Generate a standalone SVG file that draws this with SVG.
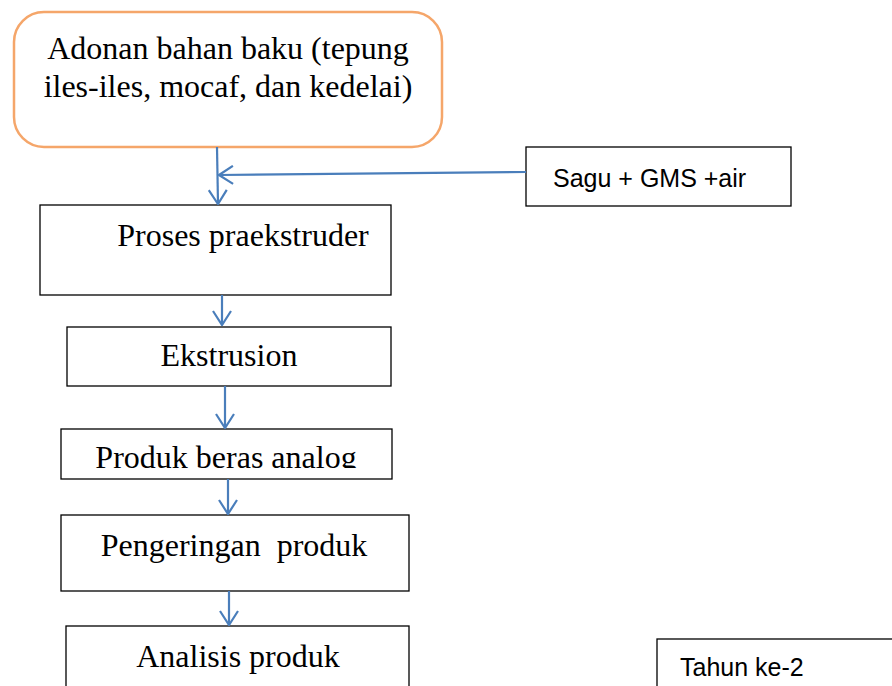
<svg xmlns="http://www.w3.org/2000/svg" width="892" height="686" viewBox="0 0 892 686">
<style>
.box{fill:#fff;stroke:#000;stroke-width:1.3}
.tr{font-family:"Liberation Serif","Times New Roman",serif;fill:#000;text-anchor:middle}
.sa{font-family:"Liberation Sans",Arial,sans-serif;fill:#000}
.con{stroke:#4A7EBB;stroke-width:2.2;fill:none}
</style>
<defs>
<marker id="ah" viewBox="0 0 16 20" refX="15" refY="10" markerWidth="16" markerHeight="20" markerUnits="userSpaceOnUse" orient="auto">
<path d="M1,1 L15,10 L1,19" fill="none" stroke="#4A7EBB" stroke-width="2.2"/>
</marker>
<clipPath id="c4"><rect x="61" y="429" width="331" height="39"/></clipPath>
</defs>
<rect width="892" height="686" fill="#fff"/>
<g id="n1">
<rect x="14" y="12" width="428" height="135" rx="30" ry="30" fill="#fff" stroke="#F5A66A" stroke-width="2.5"/>
<text class="tr" x="228" y="59" font-size="32">Adonan bahan baku (tepung</text>
<text class="tr" x="228" y="97" font-size="32">iles-iles, mocaf, dan kedelai)</text>
</g>
<g id="n_sagu">
<rect class="box" x="526" y="147" width="265" height="59"/>
<text class="sa" x="553" y="187" font-size="25">Sagu + GMS +air</text>
</g>
<g id="n2">
<rect class="box" x="40" y="205" width="351" height="90"/>
<text class="tr" x="243" y="246" font-size="32">Proses praekstruder</text>
</g>
<g id="n3">
<rect class="box" x="67" y="327" width="324" height="59"/>
<text class="tr" x="229" y="366" font-size="32">Ekstrusion</text>
</g>
<g id="n4">
<rect class="box" x="61" y="429" width="331" height="50"/>
<text class="tr" x="226" y="468" font-size="32" clip-path="url(#c4)">Produk beras analog</text>
</g>
<g id="n5">
<rect class="box" x="61" y="515" width="348" height="76"/>
<text class="tr" x="234" y="556" font-size="32" xml:space="preserve">Pengeringan  produk</text>
</g>
<g id="n6">
<rect class="box" x="66" y="626" width="343" height="70"/>
<text class="tr" x="238" y="667" font-size="32">Analisis produk</text>
</g>
<g id="n_tahun">
<rect class="box" x="657" y="639" width="250" height="60"/>
<text class="sa" x="680" y="676" font-size="25">Tahun ke-2</text>
</g>
<g id="connectors">
<line class="con" x1="217" y1="147" x2="218" y2="204" marker-end="url(#ah)"/>
<line class="con" x1="526" y1="172" x2="219" y2="175" marker-end="url(#ah)"/>
<line class="con" x1="222" y1="295" x2="222" y2="325" marker-end="url(#ah)"/>
<line class="con" x1="225" y1="386" x2="225" y2="428" marker-end="url(#ah)"/>
<line class="con" x1="228" y1="479" x2="228" y2="514" marker-end="url(#ah)"/>
<line class="con" x1="229" y1="591" x2="229" y2="625" marker-end="url(#ah)"/>
</g>
</svg>
